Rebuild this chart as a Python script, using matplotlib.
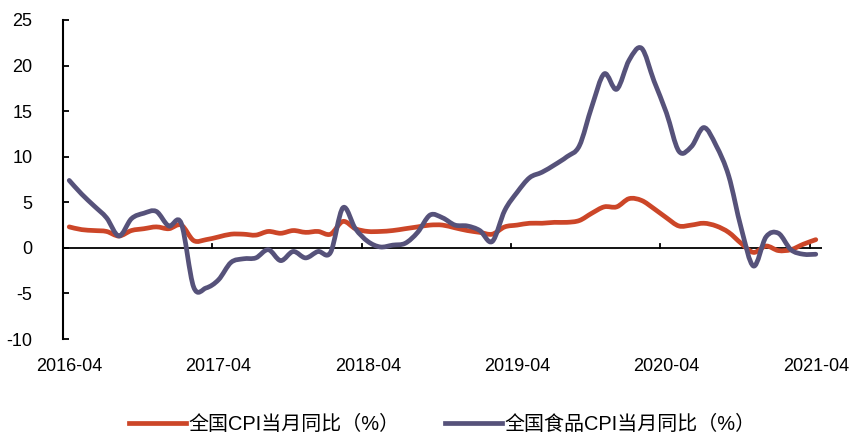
import numpy as np
import matplotlib
matplotlib.use("Agg")
import matplotlib.pyplot as plt
from matplotlib.path import Path
from matplotlib.patches import PathPatch
from matplotlib.lines import Line2D

plt.rcParams['font.family'] = ['Liberation Sans', 'Noto Sans CJK SC', 'DejaVu Sans']
plt.rcParams['axes.unicode_minus'] = False

start_year, start_month = 2016, 4
n_months = 61
labels = []
for i in range(n_months):
    y = start_year + (start_month - 1 + i) // 12
    m = (start_month - 1 + i) % 12 + 1
    labels.append(f"{y}-{m:02d}")

cpi = [2.3, 2.0, 1.9, 1.8, 1.3, 1.9, 2.1, 2.3, 2.1,
       2.5, 0.8, 0.9, 1.2, 1.5, 1.5, 1.4, 1.8, 1.6, 1.9, 1.7, 1.8,
       1.5, 2.9, 2.1, 1.8, 1.8, 1.9, 2.1, 2.3, 2.5, 2.5, 2.2, 1.9,
       1.7, 1.5, 2.3, 2.5, 2.7, 2.7, 2.8, 2.8, 3.0, 3.8, 4.5, 4.5,
       5.4, 5.2, 4.3, 3.3, 2.4, 2.5, 2.7, 2.4, 1.7, 0.5, -0.5, 0.2,
       -0.3, -0.2, 0.4, 0.9]
food = [7.4, 5.9, 4.6, 3.3, 1.3, 3.2, 3.8, 4.0, 2.4,
        2.7, -4.3, -4.4, -3.5, -1.6, -1.2, -1.1, -0.2, -1.4, -0.4, -1.1, -0.4,
        -0.5, 4.4, 2.1, 0.7, 0.1, 0.3, 0.5, 1.7, 3.6, 3.3, 2.5, 2.4,
        1.9, 0.7, 4.1, 6.1, 7.7, 8.3, 9.1, 10.0, 11.2, 15.5, 19.1, 17.4,
        20.6, 21.9, 18.3, 14.8, 10.6, 11.1, 13.2, 11.2, 7.9, 2.2, -2.0, 1.2,
        1.6, -0.2, -0.7, -0.7]

series_names = ["全国CPI当月同比（%）", "全国食品CPI当月同比（%）"]
colors = ["#CC4628", "#56527A"]


def smooth_path(xs, ys):
    # Excel-style smoothed line: cubic Bezier segments through the data points
    xs = np.asarray(xs, float); ys = np.asarray(ys, float)
    verts = [(xs[0], ys[0])]
    codes = [Path.MOVETO]
    n = len(xs)
    t = 1.0 / 6.0
    for i in range(n - 1):
        p0 = (xs[max(i - 1, 0)], ys[max(i - 1, 0)])
        p1 = (xs[i], ys[i])
        p2 = (xs[i + 1], ys[i + 1])
        p3 = (xs[min(i + 2, n - 1)], ys[min(i + 2, n - 1)])
        c1 = (p1[0] + (p2[0] - p0[0]) * t, p1[1] + (p2[1] - p0[1]) * t)
        c2 = (p2[0] - (p3[0] - p1[0]) * t, p2[1] - (p3[1] - p1[1]) * t)
        verts += [c1, c2, p2]
        codes += [Path.CURVE4] * 3
    return Path(verts, codes)


fig = plt.figure(figsize=(8.56, 4.32), dpi=100)
ax = fig.add_axes([63 / 856, 1 - 339 / 432, (822 - 63) / 856, (339 - 20) / 432])

x = np.arange(n_months)
for vals, c in zip([cpi, food], colors):
    patch = PathPatch(smooth_path(x, vals), facecolor='none', edgecolor=c,
                      lw=3.4, capstyle='round', joinstyle='round', zorder=3)
    ax.add_patch(patch)

ax.set_xlim(-0.5, n_months - 0.5)
ax.set_ylim(-10, 25)
ax.set_yticks(np.arange(-10, 26, 5))
ax.tick_params(axis='y', direction='in', length=4, width=1.3, pad=22, labelsize=13)

# category axis crossing at zero
ax.axhline(0, color='black', lw=1.3, zorder=2)
for k in range(12, n_months, 12):
    ax.plot([k - 0.5, k - 0.5], [0, 0.45], color='black', lw=1.3, zorder=2)

ax.set_xticks(x[::12])
ax.set_xticklabels(labels[::12])
ax.tick_params(axis='x', length=0, pad=14, labelsize=13)

for s in ['top', 'right', 'bottom']:
    ax.spines[s].set_visible(False)
ax.spines['left'].set_linewidth(1.5)

handles = [Line2D([], [], color=c, lw=3.4) for c in colors]
fig.legend(handles, series_names, loc='center', bbox_to_anchor=(442.5 / 856, 1 - 424 / 432),
           ncol=2, frameon=False, fontsize=14.4, handlelength=2.85, handletextpad=0.15,
           columnspacing=2.25)

fig.savefig("out.png", dpi=100)
